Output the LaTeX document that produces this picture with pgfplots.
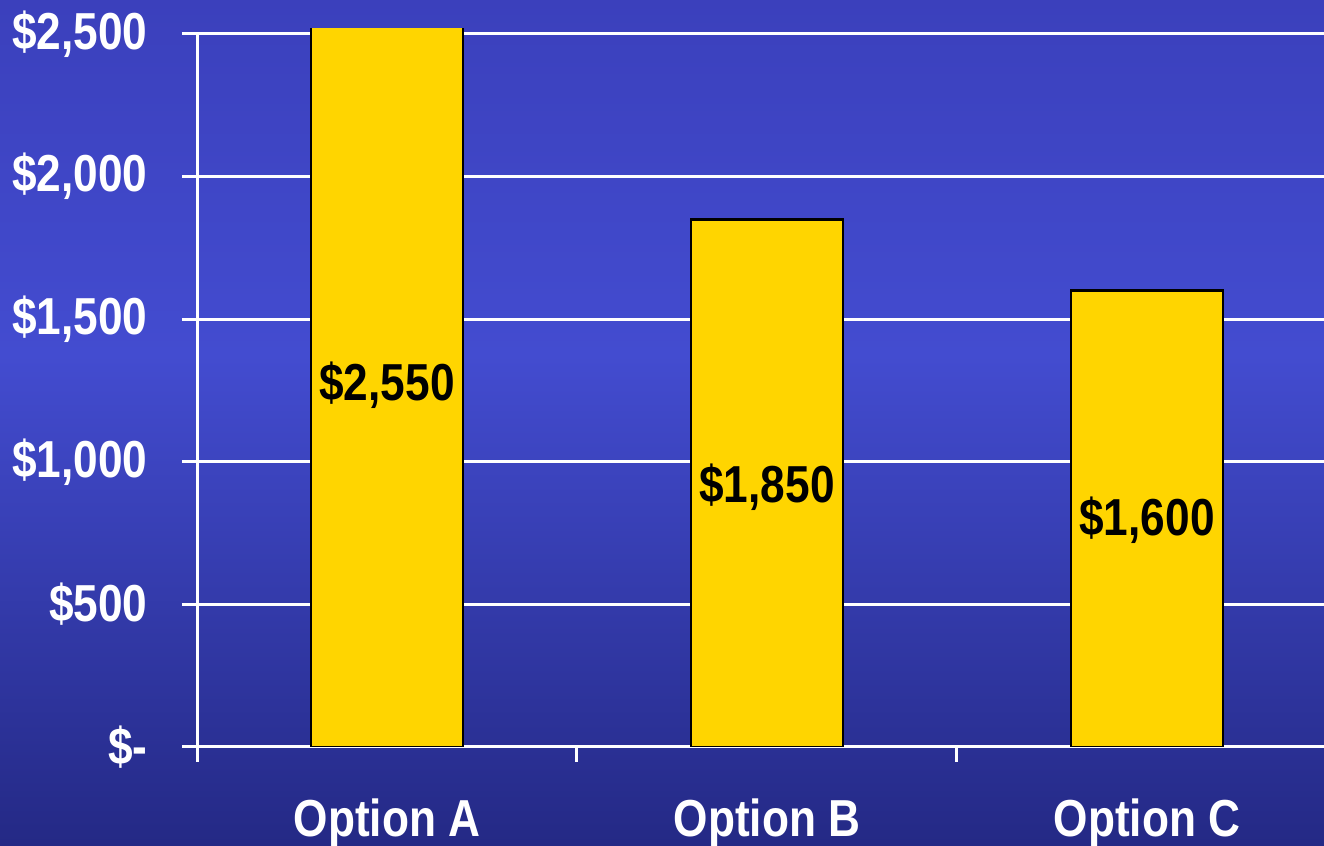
\documentclass[border=0pt]{standalone}
\usepackage{pgfplots}
\pgfplotsset{compat=1.18}
\usepackage{fontspec}
\setmainfont{Liberation Sans}[FakeStretch=0.85]
\definecolor{bgtop}{HTML}{3B40BC}
\definecolor{bgmid}{HTML}{434CD0}
\definecolor{bgbot}{HTML}{242985}
\definecolor{bargold}{HTML}{FFD500}
\pgfdeclareverticalshading{bgshade}{100bp}{color(0bp)=(bgbot); color(25bp)=(bgbot); color(54bp)=(bgmid); color(75bp)=(bgtop); color(100bp)=(bgtop)}
\newcommand{\lblfont}{\fontsize{14.8pt}{17pt}\selectfont\bfseries}
\begin{document}
\begin{tikzpicture}
\path[use as bounding box] (0,0) rectangle (132.4mm,84.6mm);
\shade[shading=bgshade] (0,0) rectangle (132.4mm,84.6mm);
\clip (0,0) rectangle (132.4mm,84.6mm);
\begin{axis}[
  at={(19.7mm,9.9mm)}, anchor=south west, scale only axis,
  width=114mm, height=71.87mm,
  xmin=-0.5, xmax=2.5, ymin=0, ymax=2520,
  axis x line*=bottom, axis y line*=left,
  axis line style={white, line width=0.3mm, -},
  y axis line style={shorten >=0.57mm},
  ytick={0,500,1000,1500,2000,2500},
  yticklabels={{\$-},{\$500},{\$1,000},{\$1,500},{\$2,000},{\$2,500}},
  ymajorgrids, grid style={white, line width=0.3mm},
  tick align=outside, major tick length=1.5mm,
  tick style={white, line width=0.3mm},
  xtick={-0.5,0.5,1.5,2.5}, xticklabels={},
  extra x ticks={0,1,2},
  extra x tick labels={Option A,Option B,Option C},
  extra x tick style={major tick length=0pt, grid=none,
     xticklabel style={yshift=-3.9mm}},
  yticklabel style={xshift=-2.2mm},
  ticklabel style={font=\lblfont, text=white},
]
\addplot[ybar, bar width=15.2mm, fill=bargold, draw=black, line width=0.25mm]
  coordinates {(0,2550) (1,1850) (2,1600)};
\addplot[draw=none, mark=none, nodes near coords, point meta=explicit symbolic,
  every node near coord/.append style={anchor=center, font=\lblfont, text=black}]
  coordinates {(0,1269)[\$2,550] (1,912)[\$1,850] (2,796)[\$1,600]};
\end{axis}
\end{tikzpicture}
\end{document}
